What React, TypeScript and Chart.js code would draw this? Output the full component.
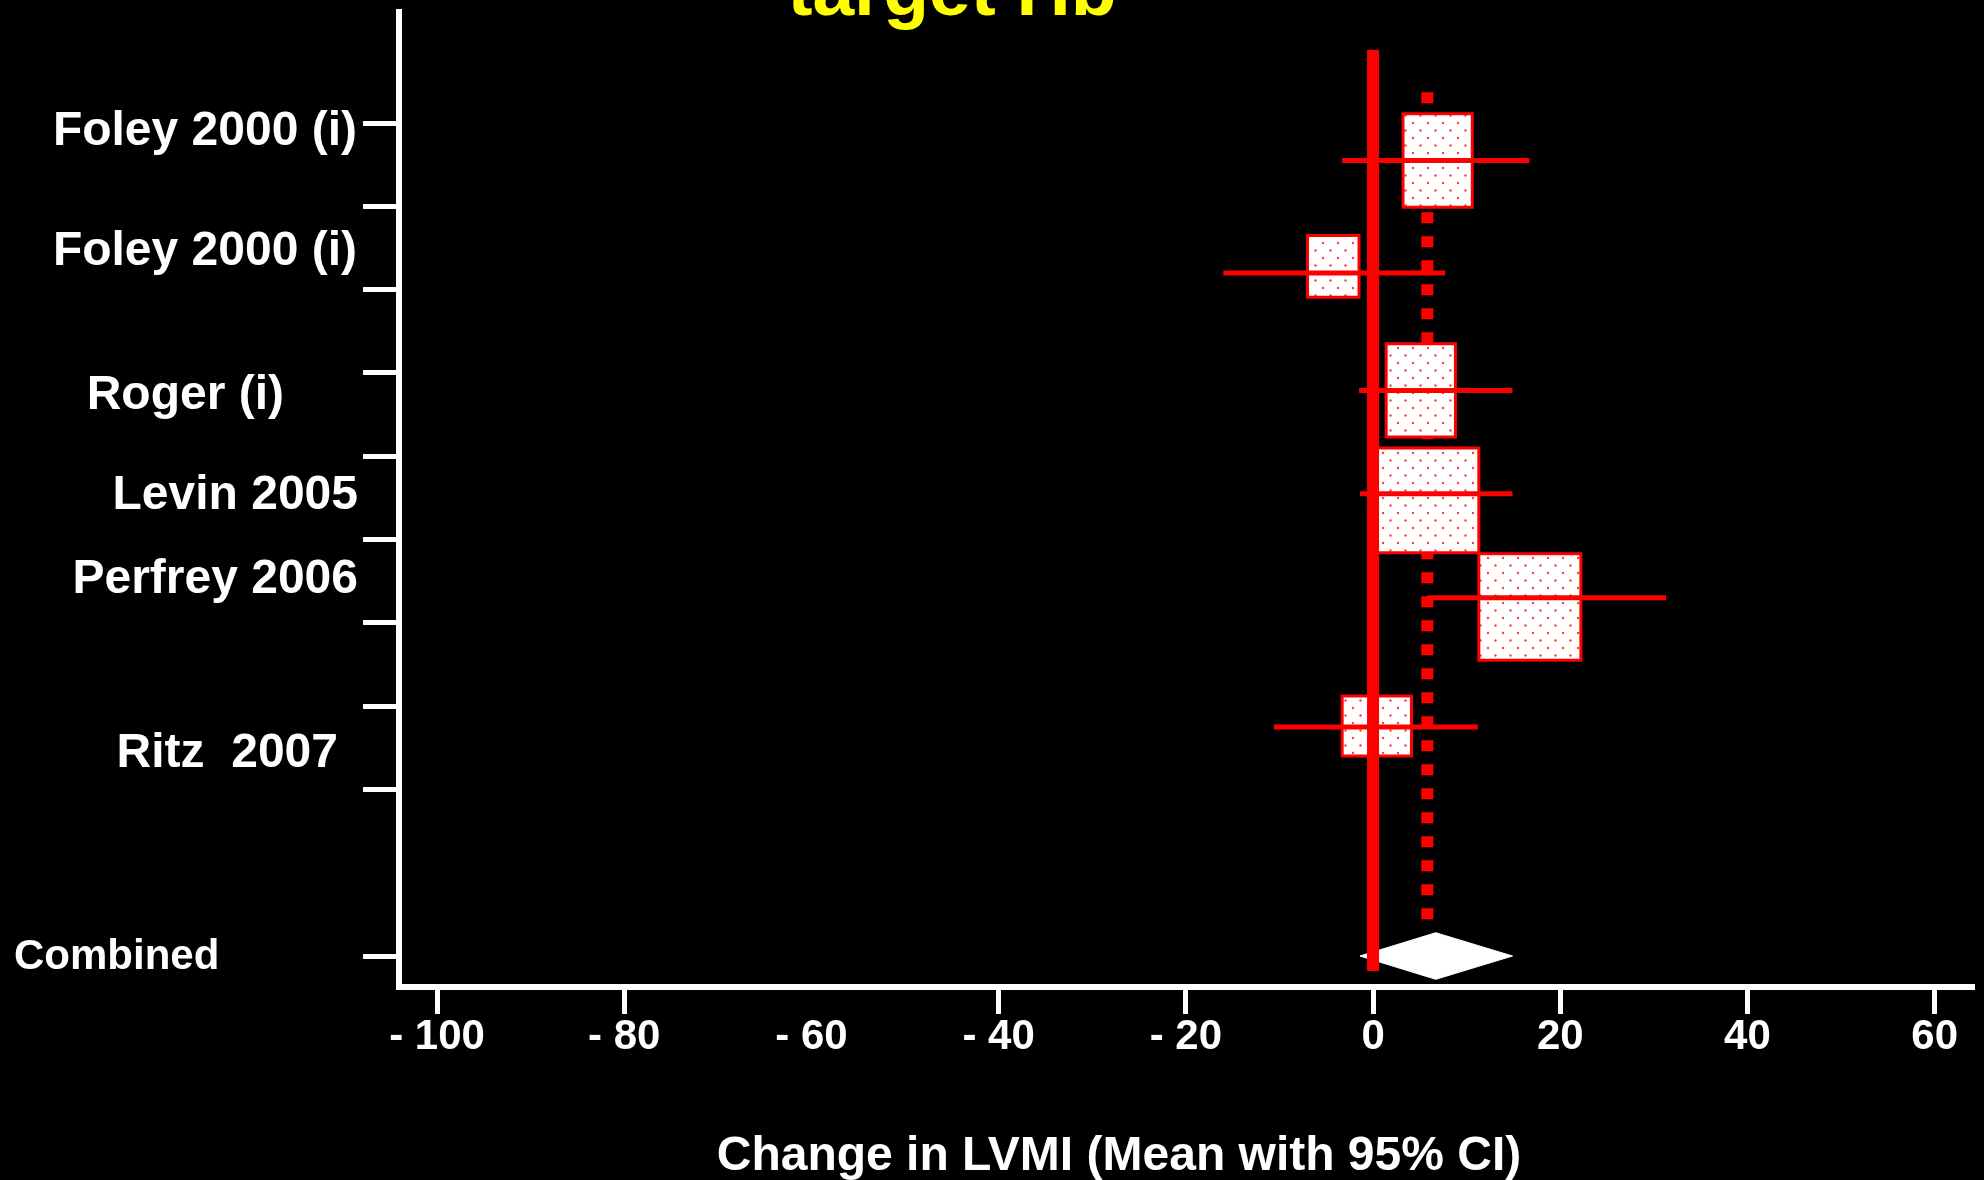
import React, { useEffect, useRef } from 'react';
import { Chart, registerables } from 'chart.js';

Chart.register(...registerables);

// ---------- data ----------
const studies = ['Foley 2000 (i)', 'Foley 2000 (i)', 'Roger (i)', 'Levin 2005', 'Perfrey 2006', 'Ritz  2007'];
const labelRows = [0.06, 1.5, 3.23, 4.43, 5.43, 7.53];
const boxLow = [3.2, -7.0, 1.4, 0.4, 11.3, -3.3];
const boxHigh = [10.6, -1.5, 8.8, 11.3, 22.2, 4.1];
const boxRows = [0.45, 1.72, 3.21, 4.53, 5.81, 7.24];
const boxHalf = [0.56, 0.37, 0.56, 0.63, 0.64, 0.36];
const ciLow = [-3.3, -16.0, -1.5, -1.4, 5.8, -10.6];
const ciHigh = [16.7, 7.7, 14.9, 14.9, 31.3, 11.2];
const ciRows = [0.45, 1.8, 3.21, 4.45, 5.7, 7.25];

const combinedLabel = 'Combined';
const combinedLabelRow = 9.98;
const combinedValues = [-1.4, 6.7, 14.9]; // low, mean, high
const combinedRow = 10.0;
const combinedHalf = 0.28;

const pooledEffect = 5.8;
const pooledRows = [-0.37, 9.57];
const nullEffect = 0;
const nullRows = [-0.88, 10.18];

const xTickValues = [-100, -80, -60, -40, -20, 0, 20, 40, 60];
const xTickLabels = ['- 100', '- 80', '- 60', '- 40', '- 20', '0', '20', '40', '60'];
const xTickMarks = [-100, -80, -40, -20, 0, 20, 40, 60];
const yTickValues = [0, 1, 2, 3, 4, 5, 6, 7, 8, 10];
const xRange = [-104.06, 64.2];
const yRange = [-1.333, 10.372];

const chartTitle = 'target Hb';
const xAxisTitle = 'Change in LVMI (Mean with 95% CI)';

// ---------- styling / layout ----------
const RED = '#ff0000';
const WHITE = '#ffffff';
const FONT = '"Liberation Sans", Arial, sans-serif';
const labelLayout = [
  { x: 357, align: 'right' },
  { x: 357, align: 'right' },
  { x: 284, align: 'right' },
  { x: 358, align: 'right' },
  { x: 358, align: 'right' },
  { x: 338, align: 'right' },
];

function makePattern(): CanvasPattern | string {
  const tile = document.createElement('canvas');
  tile.width = 15;
  tile.height = 15;
  const c = tile.getContext('2d');
  if (!c) return WHITE;
  c.fillStyle = WHITE;
  c.fillRect(0, 0, 15, 15);
  c.fillStyle = 'rgba(255,40,40,0.9)';
  c.beginPath();
  c.arc(3, 3, 1.2, 0, Math.PI * 2);
  c.fill();
  c.beginPath();
  c.arc(10.5, 10.5, 1.2, 0, Math.PI * 2);
  c.fill();
  const p = c.createPattern(tile, 'repeat');
  return p || WHITE;
}

const textPlugin = {
  id: 'forestText',
  afterDraw(chart: any) {
    const { ctx } = chart;
    const y = chart.scales.y;
    ctx.save();
    ctx.fillStyle = WHITE;
    ctx.textBaseline = 'alphabetic';
    const nameSize = 48;
    ctx.font = `bold ${nameSize}px ${FONT}`;
    studies.forEach((s, i) => {
      ctx.textAlign = labelLayout[i].align;
      ctx.fillText(s, labelLayout[i].x, y.getPixelForValue(labelRows[i]) + nameSize * 0.358);
    });
    const combSize = 42;
    ctx.font = `bold ${combSize}px ${FONT}`;
    ctx.textAlign = 'left';
    ctx.fillText(combinedLabel, 14, y.getPixelForValue(combinedLabelRow) + combSize * 0.358);

    // x-axis title
    ctx.font = `bold 48px ${FONT}`;
    ctx.textAlign = 'center';
    ctx.fillText(xAxisTitle, 1119, 1170);

    // chart title (cut off at top)
    ctx.fillStyle = '#ffff00';
    ctx.font = `bold 75px ${FONT}`;
    ctx.fillText(chartTitle, 952, 15);
    ctx.restore();
  },
};

export default function App() {
  const ref = useRef<HTMLCanvasElement>(null);

  useEffect(() => {
    document.body.style.margin = '0';
    document.body.style.background = '#000';
    const canvas = ref.current;
    if (!canvas) return;
    const pattern = makePattern();

    const datasets: any[] = [];
    // null-effect solid line (top-most)
    datasets.push({
      data: nullRows.map((r) => ({ x: nullEffect, y: r })),
      borderColor: RED,
      borderWidth: 12,
      borderCapStyle: 'butt',
      pointRadius: 0,
      fill: false,
      order: 0,
    });
    // combined diamond
    datasets.push({
      data: [
        { x: combinedValues[0], y: combinedRow },
        { x: combinedValues[1], y: combinedRow - combinedHalf },
        { x: combinedValues[2], y: combinedRow },
        { x: combinedValues[1], y: combinedRow + combinedHalf },
        { x: combinedValues[0], y: combinedRow },
      ],
      borderColor: WHITE,
      backgroundColor: WHITE,
      borderWidth: 1,
      fill: 'shape',
      pointRadius: 0,
      order: 1,
    });
    // CI lines
    studies.forEach((_, i) => {
      datasets.push({
        data: [
          { x: ciLow[i], y: ciRows[i] },
          { x: ciHigh[i], y: ciRows[i] },
        ],
        borderColor: RED,
        borderWidth: 5,
        borderCapStyle: 'butt',
        pointRadius: 0,
        fill: false,
        order: 2,
      });
    });
    // boxes
    studies.forEach((_, i) => {
      const t = boxRows[i] - boxHalf[i];
      const b = boxRows[i] + boxHalf[i];
      datasets.push({
        data: [
          { x: boxLow[i], y: t },
          { x: boxHigh[i], y: t },
          { x: boxHigh[i], y: b },
          { x: boxLow[i], y: b },
          { x: boxLow[i], y: t },
        ],
        borderColor: RED,
        borderWidth: 3,
        borderCapStyle: 'square',
        borderJoinStyle: 'miter',
        backgroundColor: pattern,
        fill: 'shape',
        pointRadius: 0,
        order: 3,
      });
    });
    // pooled dotted line (bottom)
    datasets.push({
      data: pooledRows.map((r) => ({ x: pooledEffect, y: r })),
      borderColor: RED,
      borderWidth: 12,
      borderDash: [11, 13],
      borderCapStyle: 'butt',
      pointRadius: 0,
      fill: false,
      order: 4,
    });

    const chart = new Chart(canvas, {
      type: 'line',
      data: { datasets },
      plugins: [textPlugin],
      options: {
        animation: false,
        responsive: false,
        devicePixelRatio: 1,
        layout: { padding: { top: 12, right: 10, left: 0, bottom: 0 } },
        elements: { line: { tension: 0 } },
        plugins: {
          legend: { display: false },
          tooltip: { enabled: false },
          title: { display: false },
        },
        scales: {
          x: {
            type: 'linear',
            min: xRange[0],
            max: xRange[1],
            afterBuildTicks: (s: any) => {
              s.ticks = xTickValues.map((v) => ({ value: v }));
            },
            afterFit: (s: any) => {
              s.height = 193;
            },
            ticks: {
              autoSkip: false,
              maxRotation: 0,
              minRotation: 0,
              color: WHITE,
              padding: 2,
              font: { family: FONT, weight: 'bold', size: 42, lineHeight: 1 },
              callback: (v: any) => {
                const idx = xTickValues.indexOf(Number(v));
                return idx >= 0 ? xTickLabels[idx] : '';
              },
            },
            grid: {
              drawOnChartArea: false,
              drawTicks: true,
              tickLength: 27,
              tickWidth: 5,
              color: WHITE,
              tickColor: (c: any) =>
                c.tick && xTickMarks.includes(c.tick.value) ? WHITE : 'rgba(0,0,0,0)',
            },
            border: { display: true, color: WHITE, width: 6 },
          },
          y: {
            type: 'linear',
            reverse: true,
            min: yRange[0],
            max: yRange[1],
            afterBuildTicks: (s: any) => {
              s.ticks = yTickValues.map((v) => ({ value: v }));
            },
            afterFit: (s: any) => {
              s.width = 399;
            },
            ticks: { display: false },
            grid: {
              drawOnChartArea: false,
              drawTicks: true,
              tickLength: 36,
              tickWidth: 5,
              color: WHITE,
              tickColor: WHITE,
            },
            border: { display: true, color: WHITE, width: 6 },
          },
        },
      } as any,
    });

    return () => chart.destroy();
  }, []);

  return (
    <canvas
      ref={ref}
      width={1984}
      height={1180}
      style={{ display: 'block', width: 1984, height: 1180, background: '#000' }}
    />
  );
}
